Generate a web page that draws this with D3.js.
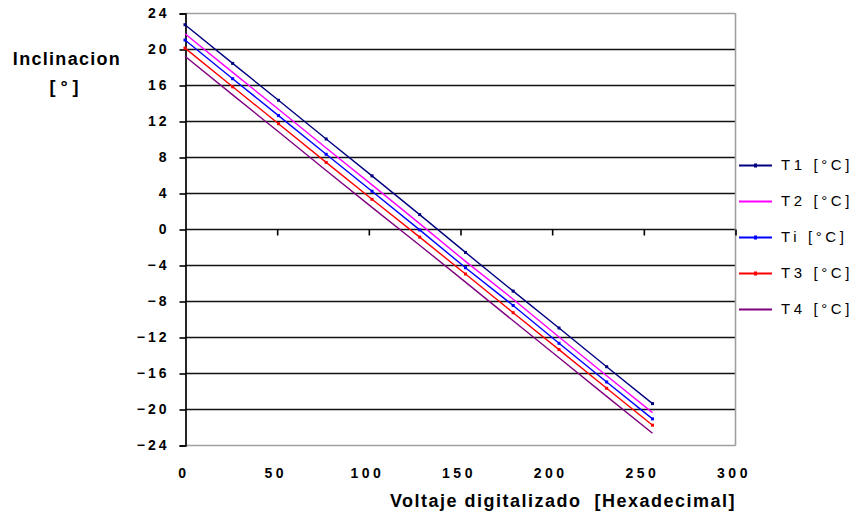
<!DOCTYPE html>
<html>
<head>
<meta charset="utf-8">
<script src="https://cdn.jsdelivr.net/npm/d3@7"></script>
<style>
  body { margin: 0; background: #fff; }
  svg { display: block; font-family: Arial, "Liberation Sans", sans-serif; }
</style>
</head>
<body>
<div id="chart"></div>
<script>
// voltaje digitalizado (hex 00, 1A, 33 ... FF)
var xValues = [0, 26, 51, 77, 102, 128, 153, 179, 204, 230, 255]

// inclinacion [°] per temperature
var t1 = [22.7, 18.4, 14.3, 10.0, 5.9, 1.6, -2.6, -6.9, -11.0, -15.3, -19.4]
var t2 = [21.7, 17.4, 13.3, 9.0, 4.9, 0.6, -3.6, -7.8, -12.0, -16.3, -20.4]
var ti = [21.0, 16.7, 12.6, 8.3, 4.2, -0.1, -4.3, -8.5, -12.7, -17.0, -21.1]
var t3 = [20.1, 15.8, 11.7, 7.4, 3.3, -0.9, -5.0, -9.3, -13.4, -17.7, -21.8]
var t4 = [19.2, 14.9, 10.8, 6.5, 2.4, -1.8, -5.9, -10.2, -14.3, -18.6, -22.7]

var seriesNames = ['T1 [°C]', 'T2 [°C]', 'Ti [°C]', 'T3 [°C]', 'T4 [°C]']
var yTicks = [-24, -20, -16, -12, -8, -4, 0, 4, 8, 12, 16, 20, 24]
var xTicks = [0, 50, 100, 150, 200, 250, 300]

function drawChart() {
  var series = [
    {name: seriesNames[0], values: t1, color: '#000080', marker: 'dot'},
    {name: seriesNames[1], values: t2, color: '#ff00ff', marker: null},
    {name: seriesNames[2], values: ti, color: '#0000ff', marker: 'dot'},
    {name: seriesNames[3], values: t3, color: '#ff0000', marker: 'dot'},
    {name: seriesNames[4], values: t4, color: '#800080', marker: null}
  ]

  var width = 856
  var height = 519
  var plotLeft = 185, plotRight = 735, plotTop = 13, plotBottom = 445

  var x = d3.scaleLinear().domain([0, 300]).range([plotLeft, plotRight])
  var y = d3.scaleLinear().domain([-24, 24]).range([plotBottom, plotTop])

  var svg = d3.select('#chart')
    .append('svg')
    .attr('width', width)
    .attr('height', height)

  // horizontal grid
  svg.append('g')
    .selectAll('line')
    .data(yTicks)
    .enter()
    .append('line')
    .attr('x1', plotLeft)
    .attr('x2', plotRight)
    .attr('y1', d => y(d) + 0.5)
    .attr('y2', d => y(d) + 0.5)
    .attr('stroke', d => (d === 24 || d === -24) ? '#a0a0a0' : '#111')
    .attr('stroke-width', d => (d === 24 || d === -24) ? 1.6 : 1.6)

  // right border
  svg.append('line')
    .attr('x1', plotRight + 0.5).attr('x2', plotRight + 0.5)
    .attr('y1', plotTop).attr('y2', plotBottom + 1)
    .attr('stroke', '#a0a0a0')
    .attr('stroke-width', 1.6)

  // y axis with outside ticks
  var yAxis = svg.append('g')
    .attr('transform', `translate(${plotLeft + 0.5},0.5)`)
    .call(d3.axisLeft(y).tickValues(yTicks).tickSize(6).tickPadding(10))
  yAxis.select('.domain').attr('stroke', '#000').attr('stroke-width', 1.7)
  yAxis.selectAll('.tick line').attr('stroke', '#000').attr('stroke-width', 1.6)
  yAxis.selectAll('.tick text')
    .attr('font-size', 14)
    .attr('font-weight', 'bold')
    .attr('letter-spacing', 3)
    .attr('fill', '#000')
    .attr('font-family', 'Arial, "Liberation Sans", sans-serif')

  // x axis crossing at 0, ticks pointing down
  var xAxis = svg.append('g')
    .attr('transform', `translate(0.5,${y(0) + 0.5})`)
    .call(d3.axisBottom(x).tickValues(xTicks.slice(1)).tickSize(6).tickFormat(''))
  xAxis.select('.domain').remove()
  xAxis.selectAll('.tick line').attr('stroke', '#000').attr('stroke-width', 1.6)

  // x tick labels along the bottom
  svg.append('g')
    .selectAll('text')
    .data(xTicks)
    .enter()
    .append('text')
    .attr('x', d => x(d) - 1)
    .attr('y', 478)
    .attr('text-anchor', 'middle')
    .attr('font-size', 14)
    .attr('font-weight', 'bold')
    .attr('letter-spacing', 3.5)
    .text(d => d)

  // series lines
  var line = d3.line()
    .x((d, i) => x(xValues[i]))
    .y(d => y(d))

  series.forEach(s => {
    svg.append('path')
      .datum(s.values)
      .attr('fill', 'none')
      .attr('stroke', s.color)
      .attr('stroke-width', 1.4)
      .attr('d', line)

    if (s.marker) {
      svg.append('g')
        .selectAll('rect')
        .data(s.values)
        .enter()
        .append('rect')
        .attr('x', (d, i) => x(xValues[i]) - 1.5)
        .attr('y', d => y(d) - 1.5)
        .attr('width', 3)
        .attr('height', 3)
        .attr('fill', s.color)
    }
  })

  // legend
  var legend = svg.append('g')
    .selectAll('g')
    .data(series)
    .enter()
    .append('g')
    .attr('transform', (d, i) => `translate(739,${165 + i * 36})`)

  legend.append('line')
    .attr('x1', 0).attr('x2', 33)
    .attr('y1', 0.5).attr('y2', 0.5)
    .attr('stroke', d => d.color)
    .attr('stroke-width', 1.8)

  legend.filter(d => d.marker)
    .append('rect')
    .attr('x', 15).attr('y', -1.5)
    .attr('width', 3).attr('height', 4)
    .attr('fill', d => d.color)

  legend.append('text')
    .attr('x', 42)
    .attr('y', 5)
    .attr('font-size', 15)
    .attr('letter-spacing', 3.6)
    .text(d => d.name)

  // axis titles
  svg.append('text')
    .attr('x', 67)
    .attr('y', 65)
    .attr('text-anchor', 'middle')
    .attr('font-size', 18)
    .attr('font-weight', 'bold')
    .attr('letter-spacing', 1.3)
    .text('Inclinacion')

  svg.append('text')
    .attr('x', 64)
    .attr('y', 93)
    .attr('text-anchor', 'middle')
    .attr('font-size', 18)
    .attr('font-weight', 'bold')
    .attr('xml:space', 'preserve')
    .text('[ ° ]')

  svg.append('text')
    .attr('x', 563)
    .attr('y', 507)
    .attr('text-anchor', 'middle')
    .attr('font-size', 18)
    .attr('font-weight', 'bold')
    .attr('letter-spacing', 1.5)
    .attr('xml:space', 'preserve')
    .text('Voltaje digitalizado  [Hexadecimal]')
}

drawChart()
</script>
</body>
</html>
